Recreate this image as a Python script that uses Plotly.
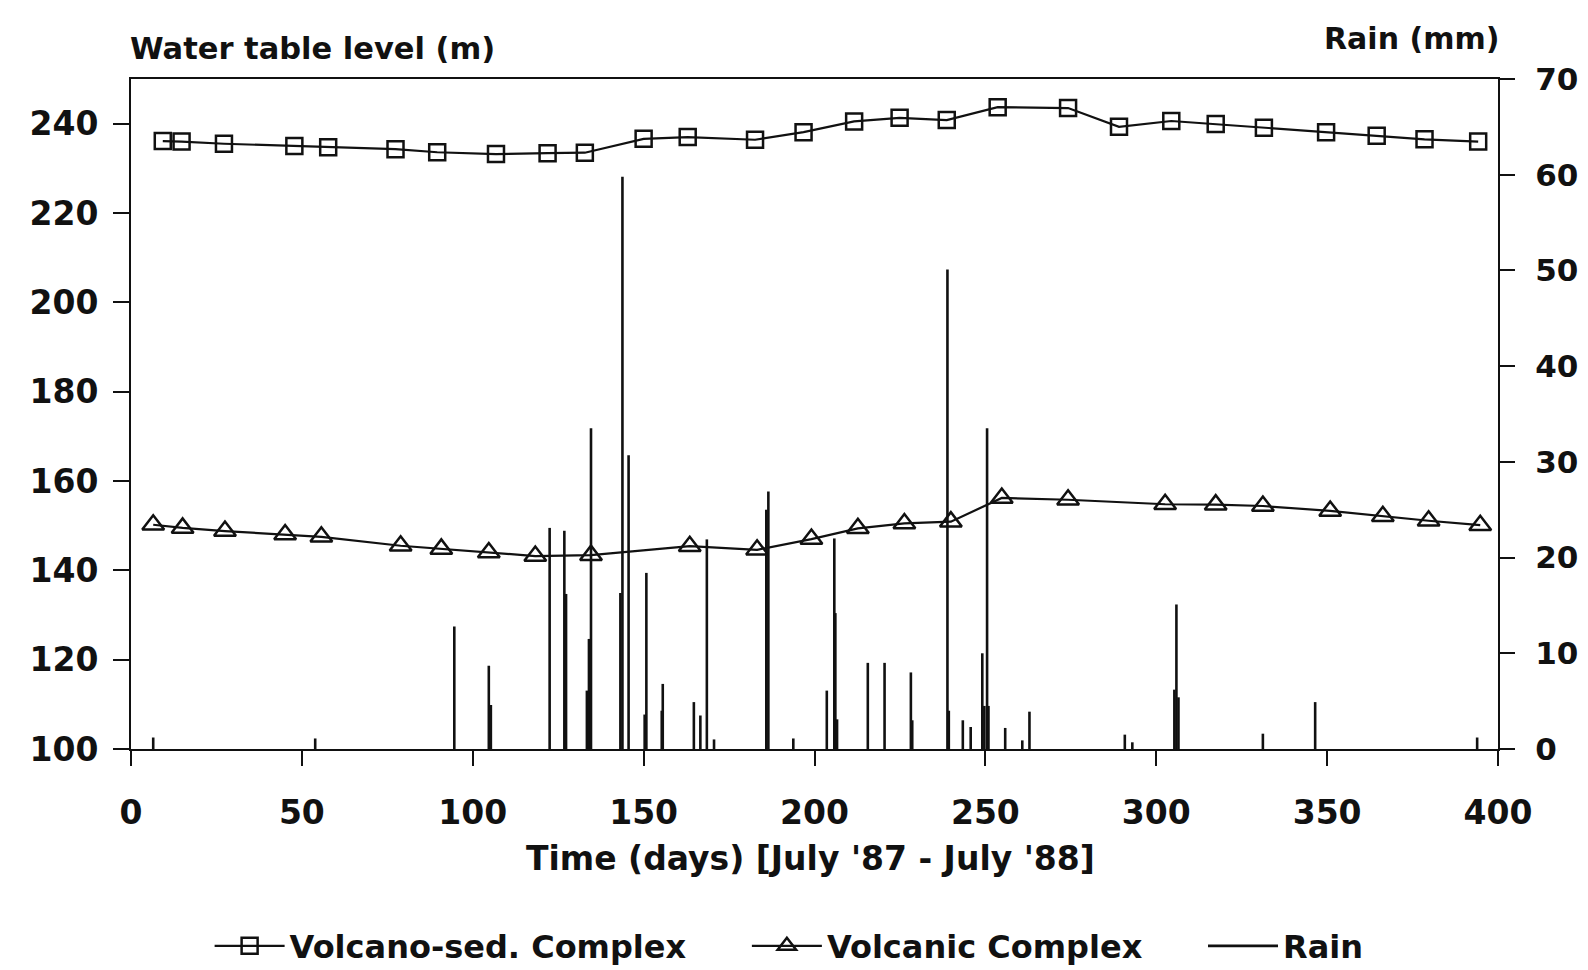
import plotly.graph_objects as go

# ---- data ----
vs_days = [9.3, 14.8, 27.2, 47.8, 57.7, 77.4, 89.6, 106.8, 121.9, 132.8, 150.0, 162.9, 182.6, 196.8,
           211.6, 224.9, 238.7, 253.6, 274.2, 289.1, 304.4, 317.4, 331.5, 349.7, 364.5, 378.5, 394.2]
vs_level = [236.1, 236.0, 235.5, 235.0, 234.7, 234.3, 233.6, 233.2, 233.4, 233.5, 236.6, 237.0, 236.4, 238.1,
            240.5, 241.3, 240.8, 243.7, 243.5, 239.3, 240.6, 239.9, 239.1, 238.1, 237.3, 236.5, 236.0]

vc_days = [6.5, 15.1, 27.5, 45.1, 55.7, 78.9, 90.8, 104.7, 118.3, 134.6, 163.5, 183.2, 199.1,
           212.7, 226.3, 239.9, 254.8, 274.2, 302.6, 317.4, 331.2, 350.9, 366.3, 379.7, 394.8]
vc_level = [150.2, 149.5, 148.8, 148.0, 147.5, 145.5, 144.8, 144.0, 143.2, 143.4, 145.4, 144.6, 147.0,
            149.4, 150.5, 150.9, 156.2, 155.8, 154.8, 154.7, 154.4, 153.3, 152.1, 151.1, 150.1]

rain_days = [6.5, 53.9, 94.6, 104.7, 105.3, 122.5, 126.8, 127.3, 133.4, 134.0, 134.6, 143.2, 143.8, 145.6,
             150.3, 150.8, 155.3, 155.6, 164.7, 166.6, 168.5, 170.6, 185.9, 186.5, 193.8, 203.6, 205.8,
             206.1, 206.6, 215.6, 220.5, 228.2, 228.6, 238.9, 239.3, 243.4, 245.7, 249.1, 249.7, 250.5,
             250.9, 255.8, 260.8, 262.9, 290.8, 293.0, 305.3, 305.9, 306.5, 331.2, 346.5, 393.9]
rain_mm = [1.2, 1.1, 12.8, 8.7, 4.6, 23.1, 22.8, 16.2, 6.1, 11.5, 33.5, 16.3, 59.8, 30.7,
           3.6, 18.4, 4.0, 6.8, 4.9, 3.5, 21.9, 1.0, 25.0, 26.9, 1.1, 6.1, 22.0,
           14.2, 3.1, 9.0, 9.0, 8.0, 3.0, 50.1, 4.0, 3.0, 2.3, 10.0, 4.5, 33.5,
           4.5, 2.2, 0.9, 3.9, 1.5, 0.7, 6.2, 15.1, 5.4, 1.6, 4.9, 1.2]

x_ticks = [0, 50, 100, 150, 200, 250, 300, 350, 400]
level_ticks = [100, 120, 140, 160, 180, 200, 220, 240]
rain_ticks = [0, 10, 20, 30, 40, 50, 60, 70]

series_names = ["Volcano-sed. Complex", "Volcanic Complex", "Rain"]

FONT = "DejaVu Sans"
INK = "#111111"
PAD = "\u00a0" * 5  # visual gap after legend entries

# rain as vertical spikes (x, 0 -> x, value) built from the data
rx, ry = [], []
for d, v in zip(rain_days, rain_mm):
    rx += [d, d, None]
    ry += [0, v, None]

fig = go.Figure()
fig.add_trace(go.Scatter(
    x=vs_days, y=vs_level, name=series_names[0] + PAD, mode="lines+markers",
    line=dict(color=INK, width=2.2),
    marker=dict(symbol="square-open", size=16, color=INK, line=dict(width=2.5, color=INK)),
))
fig.add_trace(go.Scatter(
    x=vc_days, y=vc_level, name=series_names[1] + PAD, mode="lines+markers",
    line=dict(color=INK, width=2.2),
    marker=dict(symbol="triangle-up-open", size=19, color=INK, line=dict(width=2.5, color=INK)),
))
fig.add_trace(go.Scatter(
    x=rx, y=ry, name=series_names[2], mode="lines", yaxis="y2",
    line=dict(color=INK, width=2.6), connectgaps=False,
))

tickfont = dict(family=FONT, size=33, color=INK, weight="bold")
rtickfont = dict(family=FONT, size=31, color=INK, weight="bold")

fig.update_layout(
    width=1588, height=970,
    paper_bgcolor="white", plot_bgcolor="white",
    margin=dict(l=131, r=90, t=79, b=221, autoexpand=False),
    showlegend=True,
    legend=dict(orientation="h", xref="container", yref="container",
                x=0.132, xanchor="left", y=0.0247, yanchor="middle",
                font=dict(family=FONT, size=32, color=INK, weight="bold"),
                itemwidth=70, bgcolor="rgba(0,0,0,0)"),
    xaxis=dict(range=[0, 400], tickvals=x_ticks, ticks="outside", ticklen=15, tickwidth=2,
               tickcolor=INK, showline=True, linecolor=INK, linewidth=2, mirror=True,
               showgrid=False, zeroline=False, tickfont=tickfont, ticklabelstandoff=18),
    yaxis=dict(range=[100, 250], tickvals=level_ticks, ticks="outside", ticklen=16, tickwidth=2,
               tickcolor=INK, showline=True, linecolor=INK, linewidth=2,
               showgrid=False, zeroline=False, tickfont=tickfont, ticklabelstandoff=8),
    yaxis2=dict(range=[0, 70], tickvals=rain_ticks, overlaying="y", side="right",
                ticks="outside", ticklen=15, tickwidth=2, tickcolor=INK,
                showline=True, linecolor=INK, linewidth=2,
                showgrid=False, zeroline=False, tickfont=rtickfont, ticklabelstandoff=14),
    annotations=[
        dict(text="Water table level (m)", xref="paper", yref="paper", x=-0.002, y=1.046,
             xanchor="left", yanchor="middle", showarrow=False,
             font=dict(family=FONT, size=30.5, color=INK, weight="bold")),
        dict(text="Rain (mm)", xref="paper", yref="paper", x=1.002, y=1.061,
             xanchor="right", yanchor="middle", showarrow=False,
             font=dict(family=FONT, size=30, color=INK, weight="bold")),
        dict(text="Time (days) [July '87 - July '88]", xref="paper", yref="paper", x=0.497, y=-0.163,
             xanchor="center", yanchor="middle", showarrow=False,
             font=dict(family=FONT, size=33, color=INK, weight="bold")),
    ],
)

fig.write_html("out.html")
